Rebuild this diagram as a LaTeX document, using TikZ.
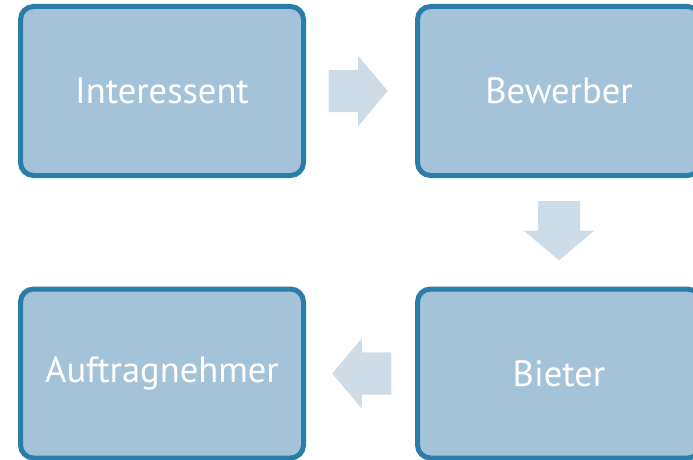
\documentclass[tikz,border=0pt]{standalone}
\usepackage{fontspec}
\setmainfont{PT Sans}
\usetikzlibrary{shapes.arrows}
\definecolor{boxfill}{HTML}{A5C3D8}
\definecolor{boxline}{HTML}{2A7DA9}
\definecolor{arrowfill}{HTML}{CEDCE7}

\begin{document}
\begin{tikzpicture}[x=1pt, y=-1pt,
	rolle/.style={draw=boxline, line width=5pt, fill=boxfill, rounded corners=13pt, minimum width=283pt, minimum height=169pt, inner sep=0pt, text=white, font=\fontsize{36.5}{42}\selectfont},
	pfeil/.style={single arrow, fill=arrowfill, minimum height=59pt, single arrow head extend=14pt, single arrow tip angle=100, anchor=tip, inner xsep=0pt, inner ysep=21pt},
	pfeilv/.style={pfeil, shape border rotate=270, inner xsep=21pt, inner ysep=0pt}]
	\useasboundingbox (0,0) rectangle (693,460);
	% die vier Rollen
	\node[rolle] (interessent) at (162,91) {Interessent};
	\node[rolle] (bewerber) at (559,91) {Bewerber};
	\node[rolle] (bieter) at (559,373.5) {Bieter};
	\node[rolle] (auftragnehmer) at (162,373.5) {Auftragnehmer};
	% Pfeile dazwischen
	\node[pfeil] (p1) at ([xshift=-27pt]bewerber.west) {};
	\node[pfeilv] (p2) at ([yshift=26pt]bieter.north) {};
	\node[pfeil, shape border rotate=180] (p3) at ([xshift=26pt]auftragnehmer.east) {};
\end{tikzpicture}
\end{document}
